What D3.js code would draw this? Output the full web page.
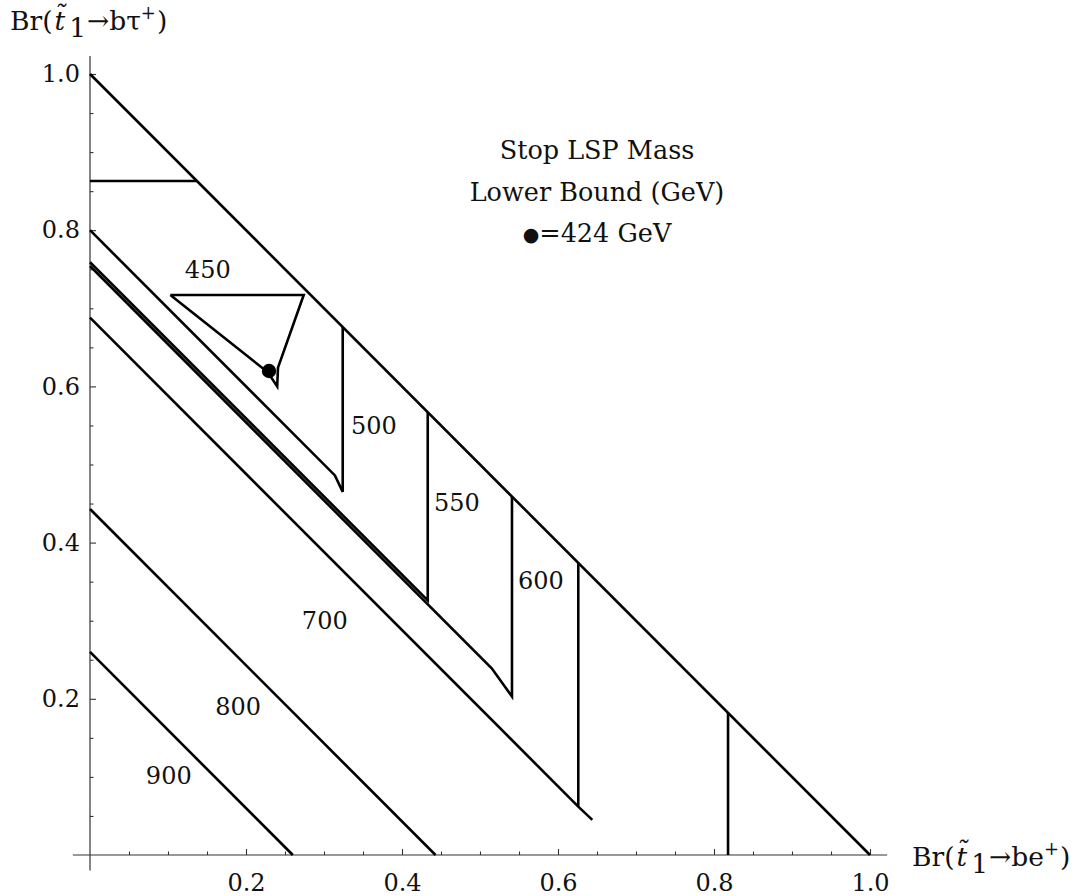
<!DOCTYPE html>
<html>
<head>
<meta charset="utf-8">
<script src="https://cdn.jsdelivr.net/npm/d3@7"></script>
<style>
  html, body { margin: 0; padding: 0; background: #fff; }
  svg text { font-family: "DejaVu Serif", serif; fill: #111; }
</style>
</head>
<body>
<svg id="chart" width="1078" height="896"></svg>
<script>
// ---- data ----
const xMajorTicks = [0.2, 0.4, 0.6, 0.8, 1.0];
const yMajorTicks = [0.2, 0.4, 0.6, 0.8, 1.0];
const minorTicks = [0.05, 0.1, 0.15, 0.25, 0.3, 0.35, 0.45, 0.5, 0.55, 0.65, 0.7, 0.75, 0.85, 0.9, 0.95];

// kinematic boundary Br(be)+Br(btau)=1
const boundary = [[0, 1], [1, 0]];
const topBar = [[0, 0.863], [0.137, 0.863]];
const contour450 = [[0.103, 0.717], [0.228, 0.618], [0.240, 0.600], [0.241, 0.624], [0.274, 0.717], [0.103, 0.717]];
const contour500 = [[0, 0.800], [0.314, 0.486], [0.324, 0.465], [0.324, 0.676]];
const contour550 = [[0, 0.759], [0.433, 0.326], [0.433, 0.567]];
const contour600 = [[0, 0.754], [0.515, 0.239], [0.541, 0.203], [0.541, 0.459]];
const contour650a = [[0, 0.688], [0.626, 0.062], [0.644, 0.045]];
const contour650b = [[0.626, 0.062], [0.626, 0.374]];
const contour800 = [[0, 0.443], [0.443, 0]];
const contour900 = [[0, 0.260], [0.260, 0]];
const edgeLine = [[0.818, 0], [0.818, 0.182]];
const allLines = [boundary, topBar, contour450, contour500, contour550, contour600,
                  contour650a, contour650b, contour800, contour900, edgeLine];

const bestPoint = [0.2295, 0.6197];   // 424 GeV

const labelText = ["450", "500", "550", "600", "700", "800", "900"];
const labelX = [0.151, 0.364, 0.4705, 0.578, 0.301, 0.190, 0.101];
const labelY = [0.749, 0.549, 0.4507, 0.351, 0.2996, 0.1895, 0.101];

const titleLines = ["Stop LSP Mass", "Lower Bound (GeV)", "=424 GeV"];

// ---- drawing ----
const svg = d3.select("#chart");
const x = d3.scaleLinear().domain([0, 1]).range([90, 870]);
const y = d3.scaleLinear().domain([0, 1]).range([855, 74]);

// axis lines (extend slightly beyond the data range)
svg.append("line").attr("x1", x(-0.022)).attr("x2", x(1.022)).attr("y1", y(0)).attr("y2", y(0))
  .attr("stroke", "#333").attr("stroke-width", 1.2);
svg.append("line").attr("x1", x(0)).attr("x2", x(0)).attr("y1", y(-0.02)).attr("y2", y(1.023))
  .attr("stroke", "#333").attr("stroke-width", 1.2);

// minor ticks
const gxMinor = svg.append("g").attr("transform", `translate(0,${y(0)})`)
  .call(d3.axisBottom(x).tickValues(minorTicks).tickSizeInner(-3.5).tickSizeOuter(0).tickFormat(""));
const gyMinor = svg.append("g").attr("transform", `translate(${x(0)},0)`)
  .call(d3.axisLeft(y).tickValues(minorTicks).tickSizeInner(-3.5).tickSizeOuter(0).tickFormat(""));
// major ticks
const gx = svg.append("g").attr("transform", `translate(0,${y(0)})`)
  .call(d3.axisBottom(x).tickValues(xMajorTicks).tickSizeInner(-6).tickSizeOuter(0).tickPadding(19)
    .tickFormat(d3.format(".1f")));
const gy = svg.append("g").attr("transform", `translate(${x(0)},0)`)
  .call(d3.axisLeft(y).tickValues(yMajorTicks).tickSizeInner(-6).tickSizeOuter(0).tickPadding(10)
    .tickFormat(d3.format(".1f")));
[gxMinor, gyMinor, gx, gy].forEach(g => {
  g.select(".domain").remove();
  g.selectAll(".tick line").attr("stroke", "#333").attr("stroke-width", 1.1);
});
gx.selectAll(".tick text").attr("font-size", 24).attr("font-family", "DejaVu Serif").attr("fill", "#111");
gy.selectAll(".tick text").attr("font-size", 24).attr("font-family", "DejaVu Serif").attr("fill", "#111");

// contour lines
const line = d3.line().x(d => x(d[0])).y(d => y(d[1]));
svg.append("g").selectAll("path").data(allLines).join("path")
  .attr("d", line).attr("fill", "none").attr("stroke", "#000")
  .attr("stroke-width", 2.6).attr("stroke-linejoin", "miter");

// best point
svg.append("circle").attr("cx", x(bestPoint[0])).attr("cy", y(bestPoint[1])).attr("r", 7.2).attr("fill", "#000");

// contour labels
svg.append("g").selectAll("text").data(labelText).join("text")
  .attr("x", (d, i) => x(labelX[i])).attr("y", (d, i) => y(labelY[i]))
  .attr("text-anchor", "middle").attr("dominant-baseline", "central")
  .attr("font-size", 24).text(d => d);

// title block
const tt = svg.append("g").selectAll("text").data(titleLines).join("text")
  .attr("x", 597).attr("y", (d, i) => 159 + i * 41.5)
  .attr("text-anchor", "middle").attr("font-size", 25.5);
tt.each(function (d, i) {
  const t = d3.select(this);
  if (i === 2) {
    t.append("tspan").attr("font-size", 19).attr("dy", -1).text("\u25CF");
    t.append("tspan").attr("dy", 1).text(d);
  } else {
    t.text(d);
  }
});

// axis titles
function axisTitle(tx, ty, tail) {
  const t = svg.append("text").attr("x", tx).attr("y", ty).attr("font-size", 26.5);
  t.append("tspan").text("Br(");
  t.append("tspan").attr("font-style", "italic").attr("dx", 2).text("t\u0303");
  t.append("tspan").attr("dy", 7).attr("dx", 4).text("1");
  t.append("tspan").attr("dy", -7).attr("dx", 1).text("\u2192b" + tail);
  t.append("tspan").attr("dy", -11).attr("font-size", 18).text("+");
  t.append("tspan").attr("dy", 11).attr("dx", 1).text(")");
}
axisTitle(10, 30, "\u03C4");
axisTitle(912, 866, "e");
</script>
</body>
</html>
